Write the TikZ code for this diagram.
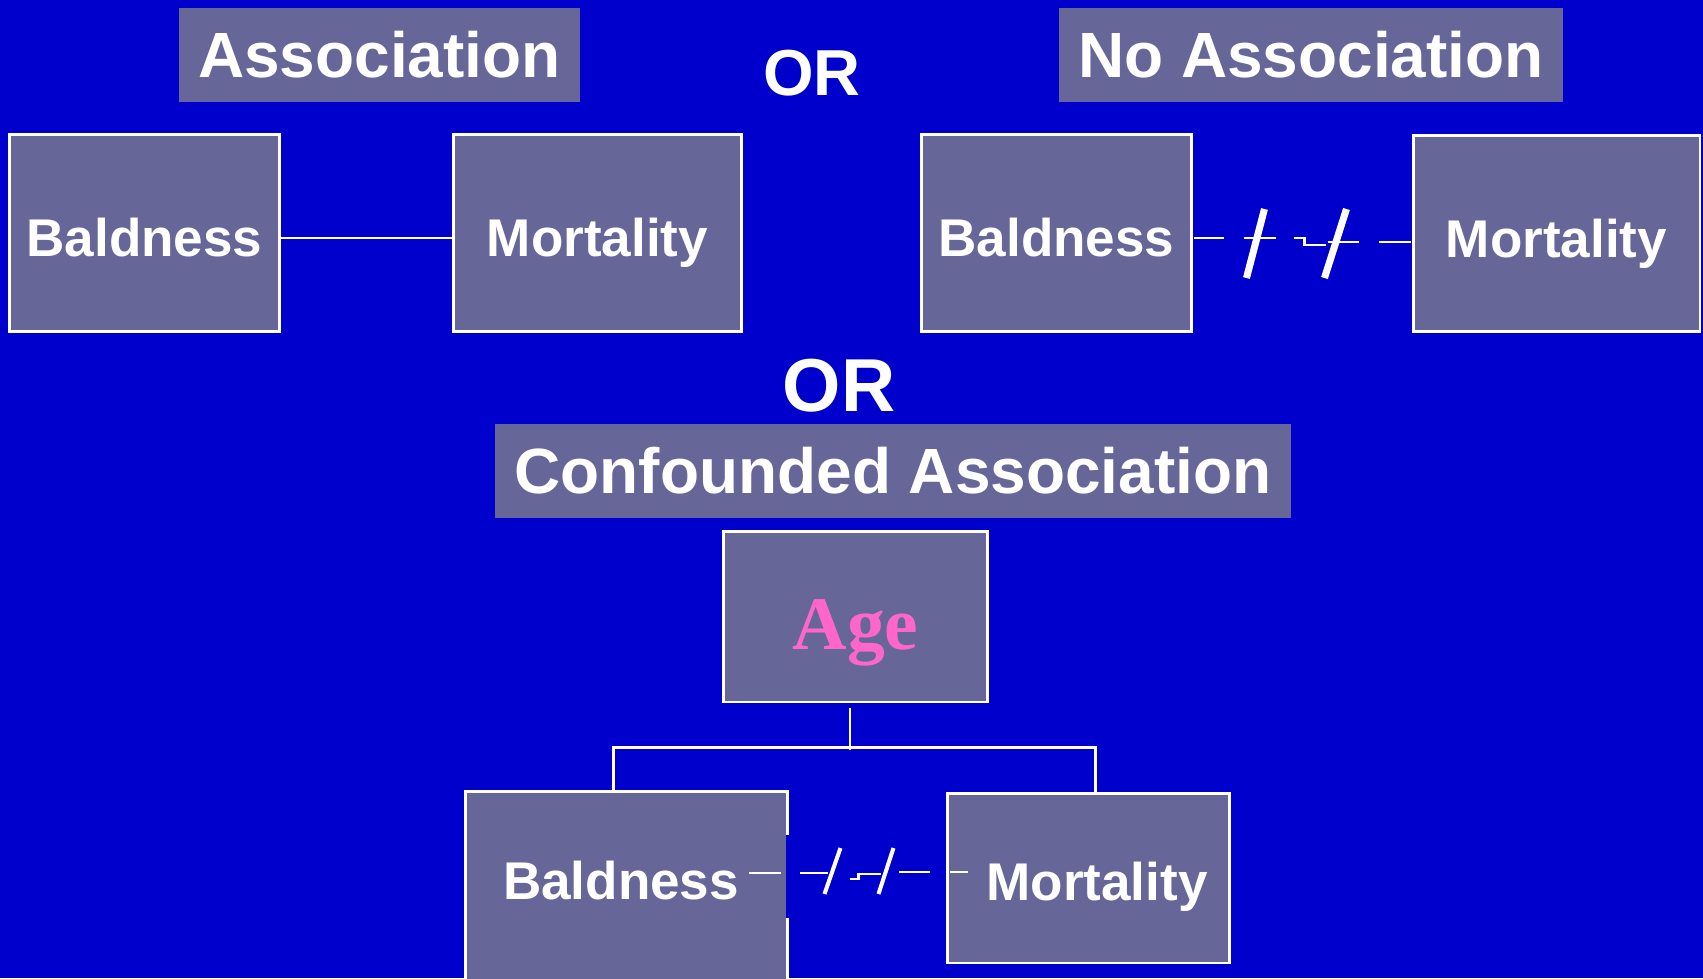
\documentclass[tikz,border=0pt]{standalone}
\usepackage{fontspec}
\setmainfont{Liberation Sans}
\newfontfamily\agefont{Liberation Serif}
\usetikzlibrary{calc}

\definecolor{slideblue}{RGB}{0,0,204}
\definecolor{boxgray}{RGB}{102,102,153}
\definecolor{agepink}{RGB}{255,102,204}

\tikzset{
    title/.style = {fill=boxgray, text=white, inner sep=0pt, font=\bfseries\fontsize{36.4}{40}\selectfont},
    var/.style = {fill=boxgray, draw=white, line width=1.7pt, inner sep=0pt, text=white,
                  font=\bfseries\fontsize{30.2}{34}\selectfont, text height=30pt, text depth=3pt},
    link/.style = {draw=white, line width=1.3pt},
    cut/.style = {draw=white, line width=4pt}
}

\begin{document}
\begin{tikzpicture}[x=0.02cm, y=-0.02cm]

                    \useasboundingbox (0,0) rectangle (1703,978);
                    \fill[slideblue] (0,0) rectangle (1703,978);
                    \clip (0,0) rectangle (1703,978);

                    % Headings
                    \node[title, minimum width=8.02cm, minimum height=1.88cm] (assoc) at (379.5,55) {Association};
                    \node[title, minimum width=10.08cm, minimum height=1.88cm] (noassoc) at (1311,55) {No Association};
                    \node[title, minimum width=15.92cm, minimum height=1.88cm] (confassoc) at (893,471) {Confounded Association};
                    \node[text=white, font=\bfseries\fontsize{37}{40}\selectfont] (ortop) at (812,73) {OR};
                    \node[text=white, font=\bfseries\fontsize{42.7}{46}\selectfont] (ormid) at (839,386) {OR};

                    % Association
                    \node[var, minimum width=5.42cm, minimum height=3.96cm] (bald1) at (144.5,233) {Baldness};
                    \node[var, minimum width=5.78cm, minimum height=3.96cm] (mort1) at (597.5,233) {Mortality};
                    \draw[link] ($(bald1.east)+(0,5)$) -- ($(mort1.west)+(0,5)$);

                    % No association
                    \node[var, minimum width=5.42cm, minimum height=3.96cm] (bald2) at (1056.5,233) {Baldness};
                    \node[var, minimum width=5.74cm, minimum height=3.94cm] (mort2) at (1556.5,233.5) {Mortality};
                    \begin{scope}[shift={(bald2.east)}]
                        \draw[link] (1,5) -- (31,5);
                        \draw[link] (51,5) -- (83,5);
                        \draw[cut] (53,45) -- (71,-24);
                        \draw[link] (101,5) -- (111,5) -- (111,12) -- (133,12);
                        \draw[cut] (131,45) -- (153,-24);
                        \draw[link] (135,9) -- (166,9);
                        \draw[link] (186,9) -- (218,9);
                    \end{scope}

                    % Confounded association
                    \node[var, font=\agefont\bfseries\fontsize{43}{46}\selectfont, text=agepink,
                          text height=46pt, text depth=9pt,
                          minimum width=5.3cm, minimum height=3.42cm] (age) at (855.5,616.5) {Age};
                    \node[var, draw=none, minimum width=6.38cm, minimum height=4cm] (bald3) at (626.5,893) {};
                    \draw[white, line width=1.7pt] ($(bald3.north east)+(0,43)$) -- (bald3.north east) -- (bald3.north west) -- (bald3.south west);
                    \draw[white, line width=1.7pt] ($(bald3.north east)+(0,126)$) -- (bald3.south east);
                    \node[var, fill=none, draw=none] (bald3text) at (621,876) {Baldness};
                    \node[var, minimum width=5.66cm, minimum height=3.4cm] (mort3) at (1088.5,878) {};
                    \node[var, fill=none, draw=none] (mort3text) at (1097,877) {Mortality};

                    \draw[link] ($(age.south)+(-5.5,5)$) -- ++(0,42);
                    \draw[link] ($(bald3.north west)+(148,0)$) -- ++(0,-44) -| ($(mort3.north west)+(150,0)$);

                    \begin{scope}[shift={(bald3.east |- mort3.west)}]
                        \draw[link] (-38,-5) -- (-6,-5);
                        \draw[link] (13,-5) -- (41,-5);
                        \draw[cut, line width=2.3pt] (37,16) -- (53,-30);
                        \draw[link] (63,1) -- (71,1) -- (71,-4) -- (94,-4);
                        \draw[cut, line width=2.3pt] (91,16) -- (106,-30);
                        \draw[link] (112,-6) -- (143,-6);
                        \draw[link] (163,-6) -- (181,-6);
                    \end{scope}

                \end{tikzpicture}
\end{document}
